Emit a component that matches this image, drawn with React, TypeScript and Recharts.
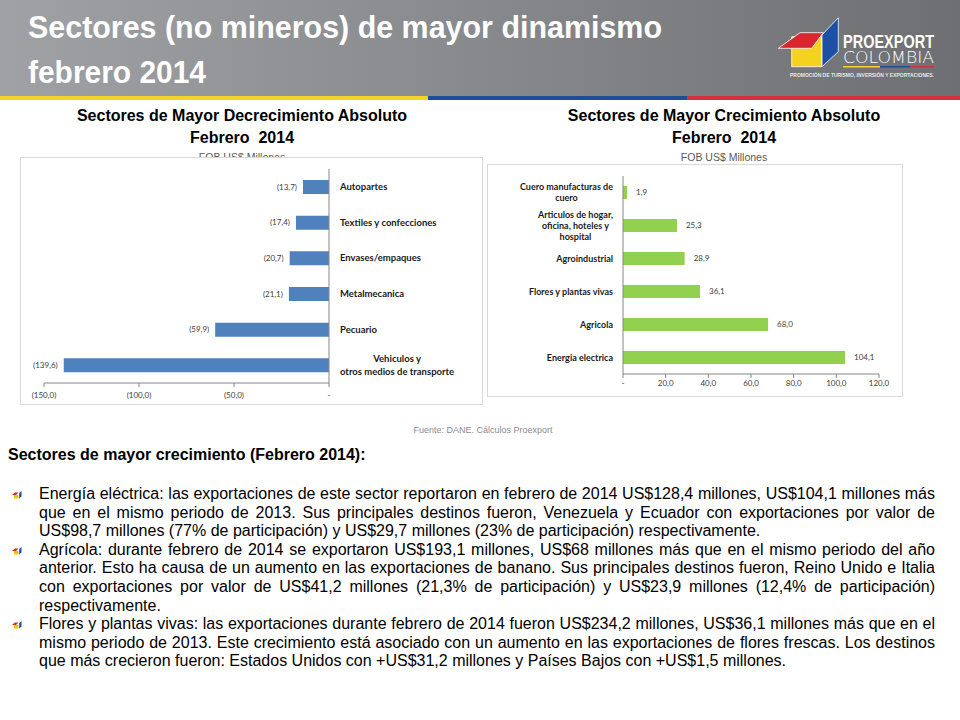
import React from 'react';
import { BarChart, Bar, XAxis, YAxis, LabelList } from 'recharts';

// ---------- DATA ----------
const decCategories = [
  'Autopartes',
  'Textiles y confecciones',
  'Envases/empaques',
  'Metalmecanica',
  'Pecuario',
  'Vehiculos y\notros medios de transporte',
];
const decValues = [-13.7, -17.4, -20.7, -21.1, -59.9, -139.6];
const decTicks = [-150, -100, -50, 0];

const incCategories = [
  'Cuero manufacturas de\ncuero',
  'Articulos de hogar,\noficina, hoteles y\nhospital',
  'Agroindustrial',
  'Flores y plantas vivas',
  'Agricola',
  'Energia electrica',
];
const incValues = [1.9, 25.3, 28.9, 36.1, 68.0, 104.1];
const incTicks = [0, 20, 40, 60, 80, 100, 120];

const decData = decCategories.map((name, i) => ({ name, value: decValues[i] }));
const incData = incCategories.map((name, i) => ({ name, value: incValues[i] }));

const paragraphs: string[][] = [
  [
    'Energía eléctrica: las exportaciones de este sector reportaron en febrero de 2014 US$128,4 millones, US$104,1 millones más',
    'que en el mismo periodo de 2013. Sus principales destinos fueron, Venezuela y Ecuador con exportaciones por valor de',
    'US$98,7 millones (77% de participación) y US$29,7 millones (23% de participación) respectivamente.',
  ],
  [
    'Agrícola: durante febrero de 2014 se exportaron US$193,1 millones, US$68 millones más que en el mismo periodo del año',
    'anterior. Esto ha causa de un aumento en las exportaciones de banano. Sus principales destinos fueron, Reino Unido e Italia',
    'con exportaciones por valor de US$41,2 millones (21,3% de participación) y US$23,9 millones (12,4% de participación)',
    'respectivamente.',
  ],
  [
    'Flores y plantas vivas: las exportaciones durante febrero de 2014 fueron US$234,2 millones, US$36,1 millones más que en el',
    'mismo periodo de 2013. Este crecimiento está asociado con un aumento en las exportaciones de flores frescas. Los destinos',
    'que más crecieron fueron: Estados Unidos con +US$31,2 millones y Países Bajos con +US$1,5 millones.',
  ],
];

// ---------- HELPERS ----------
const fmt1 = (v: number) => Math.abs(v).toFixed(1).replace('.', ',');
const decTickFmt = (v: number) => (v === 0 ? '-' : `(${fmt1(v)})`);
const incTickFmt = (v: number) => (v === 0 ? '-' : fmt1(v));

let measureCtx: CanvasRenderingContext2D | null = null;
function measure(text: string, font: string): number {
  if (!measureCtx) {
    const c = document.createElement('canvas');
    measureCtx = c.getContext('2d');
  }
  if (!measureCtx) return text.length * 5;
  measureCtx.font = font;
  return measureCtx.measureText(text).width;
}

const CAT_FAMILY = 'Lato, "Open Sans", sans-serif';
const SANS = '"Liberation Sans", Arial, sans-serif';

function makeCategoryTick(anchor: 'start' | 'end', size: number, lh: number) {
  return (props: any) => {
    const { x, y, payload } = props;
    const lines = String(payload.value).split('\n');
    const common = {
      fontFamily: CAT_FAMILY,
      fontSize: size,
      fontWeight: 700 as const,
      fill: '#1a1a1a',
    };
    if (lines.length === 1) {
      return (
        <text x={x} y={y} dy="0.35em" textAnchor={anchor} {...common}>
          {lines[0]}
        </text>
      );
    }
    const font = `bold ${size}px ${CAT_FAMILY}`;
    const maxW = Math.max(...lines.map((l) => measure(l, font)));
    const cx = anchor === 'start' ? x + maxW / 2 : x - maxW / 2;
    return (
      <text x={cx} y={y} textAnchor="middle" {...common}>
        {lines.map((l, i) => (
          <tspan key={i} x={cx} y={y + (i - (lines.length - 1) / 2) * lh} dy="0.35em">
            {l}
          </tspan>
        ))}
      </text>
    );
  };
}

const LeftValueLabel = (props: any) => {
  const vb = props.viewBox ?? props;
  const x = Number(vb.x ?? props.x);
  const w = Number(vb.width ?? props.width);
  const y = Number(vb.y ?? props.y);
  const h = Number(vb.height ?? props.height);
  const left = Math.min(x, x + w);
  return (
    <text
      x={left - 6}
      y={y + h / 2}
      dy="0.35em"
      textAnchor="end"
      fontFamily={CAT_FAMILY}
      fontSize={8}
      fill="#404040"
    >
      {`(${fmt1(Number(props.value))})`}
    </text>
  );
};

const RightValueLabel = (props: any) => {
  const vb = props.viewBox ?? props;
  const x = Number(vb.x ?? props.x);
  const w = Number(vb.width ?? props.width);
  const y = Number(vb.y ?? props.y);
  const h = Number(vb.height ?? props.height);
  const right = Math.max(x, x + w);
  return (
    <text
      x={right + 9}
      y={y + h / 2}
      dy="0.35em"
      textAnchor="start"
      fontFamily={CAT_FAMILY}
      fontSize={8}
      fill="#404040"
    >
      {fmt1(Number(props.value))}
    </text>
  );
};

const JustifiedLine = ({ text, width, last }: { text: string; width: number; last: boolean }) => {
  const font = `16px ${SANS}`;
  let ws = 0;
  if (!last) {
    const natural = measure(text, font);
    const spaces = (text.match(/ /g) || []).length;
    if (spaces > 0) ws = (width - natural) / spaces;
  }
  return (
    <div style={{ whiteSpace: 'nowrap', wordSpacing: ws, height: 18.6, lineHeight: '18.6px' }}>{text}</div>
  );
};

const Bullet = () => (
  <svg width={11} height={8} viewBox="0 0 11 8" style={{ position: 'absolute', left: -27, top: 6 }}>
    <polygon points="0,4 3,1.5 6.5,1.5 4,4" fill="#D7282F" />
    <polygon points="2,4 6.5,4 6.5,7.5 2,7.5" fill="#F2C500" />
    <polygon points="7.2,2 9.5,0 9.5,5.5 7.2,7.5" fill="#1E4E9A" />
  </svg>
);

const NARROW = '"Liberation Sans Narrow", "Arial Narrow", "Liberation Sans", Arial, sans-serif';

// ---------- APP ----------
export default function App() {
  return (
    <div
      style={{
        position: 'absolute',
        left: 0,
        top: 0,
        width: 960,
        height: 720,
        background: '#ffffff',
        overflow: 'hidden',
        fontFamily: SANS,
        color: '#000',
      }}
    >
      {/* Header */}
      <svg width={960} height={101} style={{ position: 'absolute', left: 0, top: 0 }}>
        <defs>
          <linearGradient id="hg" x1="0" y1="0" x2="1" y2="0">
            <stop offset="0" stopColor="#a0a1a4" />
            <stop offset="0.5" stopColor="#88898c" />
            <stop offset="1" stopColor="#6e6f72" />
          </linearGradient>
        </defs>
        <rect x={0} y={0} width={960} height={96} fill="url(#hg)" />
        <rect x={0} y={96} width={428} height={4} fill="#F4D22A" />
        <rect x={428} y={96} width={259} height={4} fill="#1F4E99" />
        <rect x={687} y={96} width={273} height={4} fill="#D4303C" />
        <text
          x={28}
          y={38}
          fill="#ffffff"
          fontFamily={NARROW}
          fontWeight={700}
          fontSize={31}
          textLength={634}
          lengthAdjust="spacingAndGlyphs"
        >
          Sectores (no mineros) de mayor dinamismo
        </text>
        <text
          x={28}
          y={83}
          fill="#ffffff"
          fontFamily={NARROW}
          fontWeight={700}
          fontSize={31}
          textLength={178}
          lengthAdjust="spacingAndGlyphs"
        >
          febrero 2014
        </text>
        {/* Logo */}
        <polygon points="791.7,36.7 821.7,36.7 821.7,66.7 791.7,66.7" fill="#F5D21E" stroke="#ffffff" strokeWidth={0.8} />
        <polygon points="778.3,48.3 800,32.7 823.3,32.7 811.7,48.3" fill="#D9262F" stroke="#ffffff" strokeWidth={0.8} />
        <polygon points="822,35 838.3,17.7 838.3,51.7 822,66.7" fill="#1D4FA3" stroke="#ffffff" strokeWidth={0.8} />
        <text
          x={843}
          y={48}
          fill="#ffffff"
          fontFamily={NARROW}
          fontWeight={700}
          fontSize={18}
          textLength={91}
          lengthAdjust="spacingAndGlyphs"
        >
          PROEXPORT
        </text>
        <text
          x={843}
          y={63.3}
          fill="#ffffff"
          fontFamily={'"DejaVu Sans", "Liberation Sans", sans-serif'}
          fontWeight={200}
          fontSize={15}
          textLength={91}
          lengthAdjust="spacingAndGlyphs"
        >
          COLOMBIA
        </text>
        <rect x={843} y={66} width={37} height={1.5} fill="#F4D22A" />
        <rect x={880} y={66} width={30} height={1.5} fill="#1F4E99" />
        <rect x={910} y={66} width={24} height={1.5} fill="#D4303C" />
        <text
          x={790}
          y={77}
          fill="#e6e6e6"
          fontFamily={SANS}
          fontWeight={700}
          fontSize={5}
          textLength={144}
          lengthAdjust="spacingAndGlyphs"
        >
          PROMOCIÓN DE TURISMO, INVERSIÓN Y EXPORTACIONES.
        </text>
      </svg>

      {/* Chart titles */}
      <div
        style={{
          position: 'absolute',
          left: 0,
          top: 105,
          width: 484,
          textAlign: 'center',
          fontWeight: 700,
          fontSize: 16,
          lineHeight: '22px',
        }}
      >
        Sectores de Mayor Decrecimiento Absoluto
        <br />
        Febrero&nbsp; 2014
      </div>
      <div
        style={{
          position: 'absolute',
          left: 484,
          top: 105,
          width: 480,
          textAlign: 'center',
          fontWeight: 700,
          fontSize: 16,
          lineHeight: '22px',
        }}
      >
        Sectores de Mayor Crecimiento Absoluto
        <br />
        Febrero&nbsp; 2014
      </div>
      <div
        style={{
          position: 'absolute',
          left: 0,
          top: 151,
          width: 484,
          textAlign: 'center',
          fontSize: 10.5,
          lineHeight: '12px',
          color: '#595959',
        }}
      >
        FOB US$ Millones
      </div>
      <div
        style={{
          position: 'absolute',
          left: 484,
          top: 151,
          width: 480,
          textAlign: 'center',
          fontSize: 10.5,
          lineHeight: '12px',
          color: '#595959',
        }}
      >
        FOB US$ Millones
      </div>

      {/* Left chart box */}
      <div
        style={{
          position: 'absolute',
          left: 20,
          top: 157,
          width: 463,
          height: 248,
          boxSizing: 'border-box',
          border: '1px solid #D9D9D9',
          background: '#ffffff',
        }}
      />
      <div style={{ position: 'absolute', left: 20, top: 157 }}>
        <BarChart
          width={463}
          height={248}
          data={decData}
          layout="vertical"
          margin={{ top: 12, right: 0, left: 24, bottom: 0 }}
        >
          <XAxis
            type="number"
            domain={[-150, 0]}
            ticks={decTicks}
            tickFormatter={decTickFmt}
            height={22}
            axisLine={{ stroke: '#868686' }}
            tickLine={{ stroke: '#868686' }}
            tickSize={4}
            tickMargin={5}
            tick={{ fontSize: 8, fill: '#404040', fontFamily: CAT_FAMILY }}
            interval={0}
          />
          <YAxis
            type="category"
            dataKey="name"
            orientation="right"
            width={154}
            axisLine={{ stroke: '#868686' }}
            tickLine={false}
            tickSize={0}
            tickMargin={11}
            interval={0}
            tick={makeCategoryTick('start', 9.5, 13.5)}
          />
          <Bar dataKey="value" fill="#4F81BD" barSize={14} isAnimationActive={false}>
            <LabelList dataKey="value" content={LeftValueLabel} />
          </Bar>
        </BarChart>
      </div>

      {/* Right chart box */}
      <div
        style={{
          position: 'absolute',
          left: 487,
          top: 164,
          width: 416,
          height: 233,
          boxSizing: 'border-box',
          border: '1px solid #D9D9D9',
          background: '#ffffff',
        }}
      />
      <div style={{ position: 'absolute', left: 487, top: 164 }}>
        <BarChart
          width={416}
          height={233}
          data={incData}
          layout="vertical"
          margin={{ top: 12, right: 24, left: 0, bottom: 0 }}
        >
          <XAxis
            type="number"
            domain={[0, 120]}
            ticks={incTicks}
            tickFormatter={incTickFmt}
            height={23}
            axisLine={{ stroke: '#868686' }}
            tickLine={{ stroke: '#868686' }}
            tickSize={4}
            tickMargin={2}
            tick={{ fontSize: 8, fill: '#404040', fontFamily: CAT_FAMILY }}
            interval={0}
          />
          <YAxis
            type="category"
            dataKey="name"
            orientation="left"
            width={136}
            axisLine={{ stroke: '#868686' }}
            tickLine={false}
            tickSize={0}
            tickMargin={10}
            interval={0}
            tick={makeCategoryTick('end', 9, 11)}
          />
          <Bar dataKey="value" fill="#92D050" barSize={13} isAnimationActive={false}>
            <LabelList dataKey="value" content={RightValueLabel} />
          </Bar>
        </BarChart>
      </div>

      {/* Source */}
      <div
        style={{
          position: 'absolute',
          left: 383,
          top: 425,
          width: 200,
          textAlign: 'center',
          fontSize: 9,
          lineHeight: '10px',
          color: '#8c8c8c',
        }}
      >
        Fuente: DANE. Cálculos Proexport
      </div>

      {/* Section heading */}
      <div
        style={{
          position: 'absolute',
          left: 8,
          top: 446,
          fontWeight: 700,
          fontSize: 16,
          lineHeight: '18px',
          whiteSpace: 'nowrap',
        }}
      >
        Sectores de mayor crecimiento (Febrero 2014):
      </div>

      {/* Bullet paragraphs */}
      <div style={{ position: 'absolute', left: 39, top: 485, width: 896, fontSize: 16, color: '#000' }}>
        {paragraphs.map((lines, pi) => (
          <div key={pi} style={{ position: 'relative' }}>
            <Bullet />
            {lines.map((ln, li) => (
              <JustifiedLine key={li} text={ln} width={896} last={li === lines.length - 1} />
            ))}
          </div>
        ))}
      </div>
    </div>
  );
}
